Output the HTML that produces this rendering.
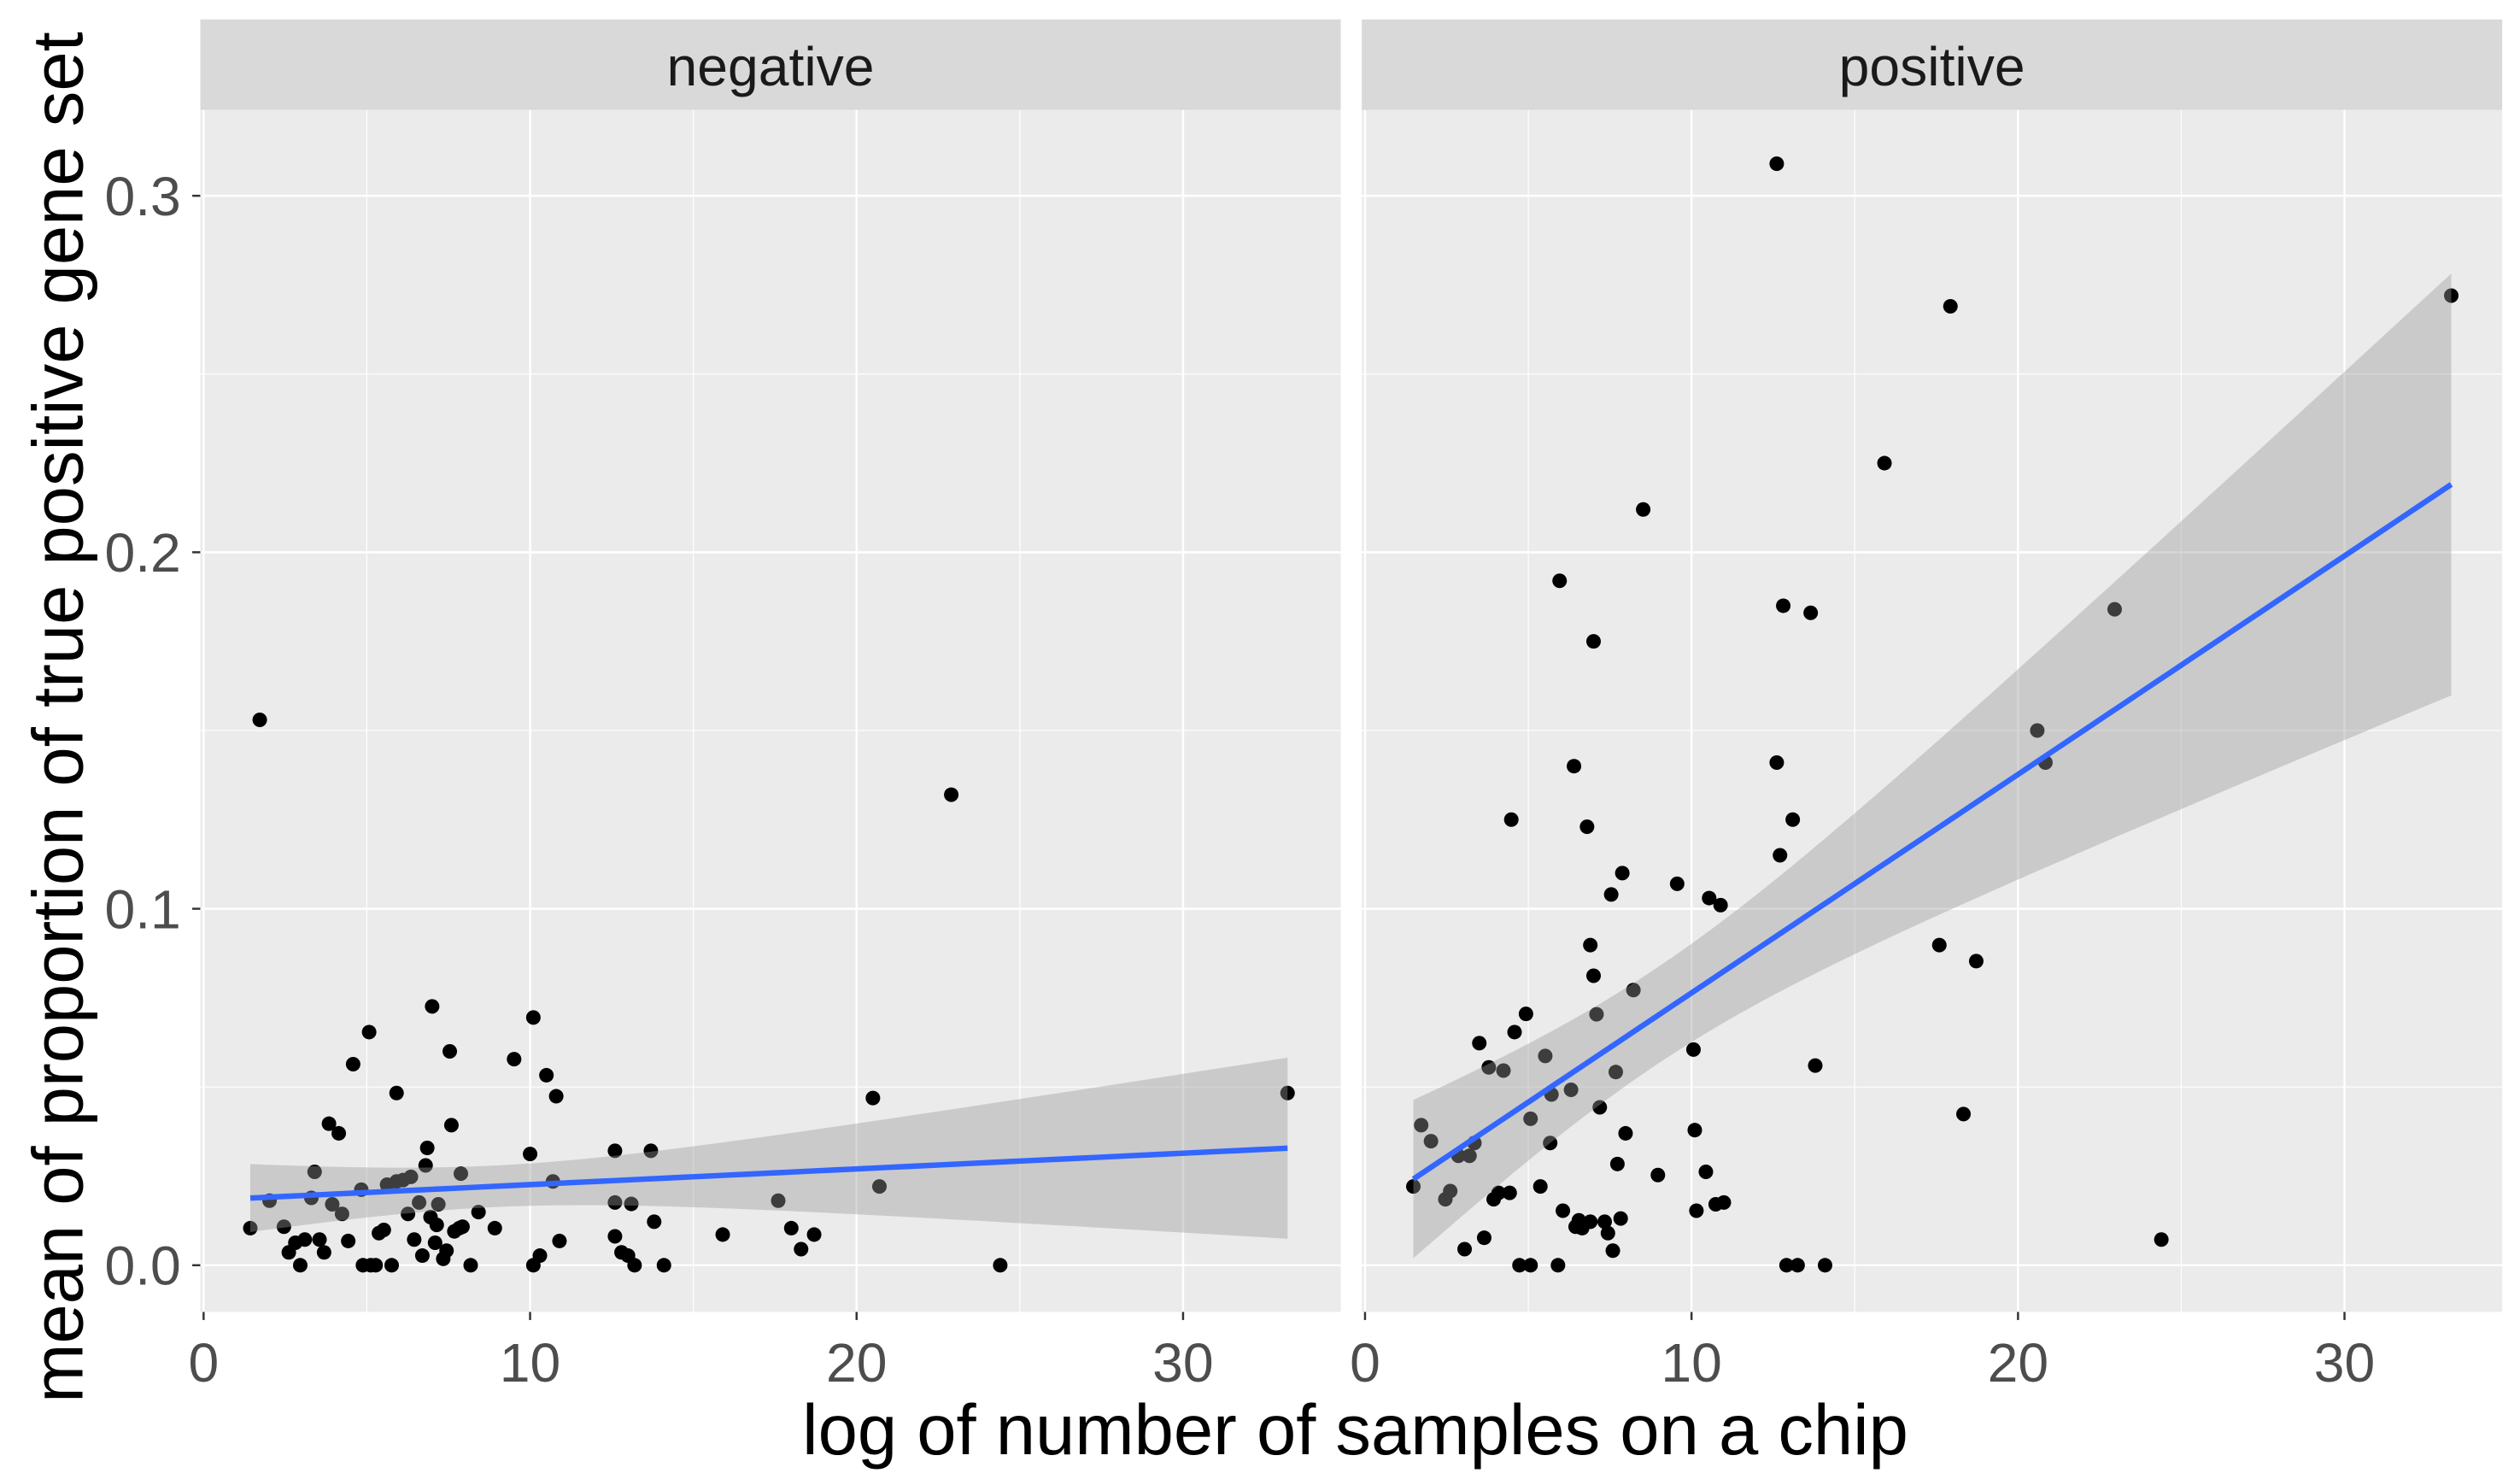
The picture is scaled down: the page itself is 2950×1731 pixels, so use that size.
<!DOCTYPE html>
<html><head><meta charset="utf-8"><style>
html,body{margin:0;padding:0;background:#fff;}
svg{display:block;font-family:"Liberation Sans",sans-serif;}
</style></head><body>
<svg id="chart" width="2950" height="1731" viewBox="0 0 1560 915.4" xmlns="http://www.w3.org/2000/svg"></svg>
<script>
// Data values (x = log of number of samples, y = mean proportion)
const negX = [1.43,1.72,2.02,2.46,2.61,2.81,2.96,3.10,3.30,3.40,3.55,3.69,3.84,3.94,4.14,4.24,4.43,4.58,4.83,4.88,5.07,5.12,5.27,5.37,5.52,5.62,5.76,5.91,5.91,6.11,6.26,6.35,6.45,6.60,6.70,6.80,6.85,6.95,7.00,7.09,7.14,7.19,7.34,7.44,7.54,7.59,7.68,7.83,7.88,7.93,8.18,8.42,8.92,9.51,10.0,10.1,10.1,10.3,10.5,10.7,10.8,10.9,12.6,12.6,12.6,12.8,13.0,13.1,13.2,13.7,13.8,14.1,15.9,17.6,18.0,18.3,18.7,20.5,20.7,22.9,24.4,33.2];
const negY = [0.0104,0.153,0.0181,0.0108,0.0036,0.0063,0.0,0.0072,0.0189,0.0262,0.0072,0.0036,0.0397,0.0171,0.0370,0.0144,0.0068,0.0564,0.0212,0.0,0.0654,0.0,0.0,0.0090,0.0099,0.0226,0.0,0.0483,0.0235,0.0239,0.0144,0.0248,0.0072,0.0176,0.0027,0.0280,0.0329,0.0135,0.0726,0.0063,0.0113,0.0171,0.0018,0.0041,0.0600,0.0393,0.0095,0.0104,0.0257,0.0108,0.0,0.0149,0.0104,0.0578,0.0312,0.0695,0.0,0.0027,0.0533,0.0235,0.0474,0.0068,0.0321,0.0176,0.0081,0.0036,0.0027,0.0172,0.0,0.0321,0.0122,0.0,0.0086,0.0181,0.0104,0.0045,0.0086,0.0469,0.0221,0.132,0.0,0.0483];
const posX = [1.48,1.72,2.02,2.46,2.61,2.86,3.05,3.20,3.35,3.50,3.65,3.79,3.94,4.09,4.24,4.43,4.48,4.58,4.73,4.93,5.07,5.07,5.37,5.52,5.67,5.71,5.96,5.91,6.06,6.31,6.40,6.45,6.55,6.65,6.80,6.90,6.90,7.00,7.00,7.09,7.19,7.34,7.44,7.54,7.68,7.59,7.73,7.83,7.88,7.98,8.22,8.52,8.97,9.56,10.06,10.1,10.15,10.44,10.54,10.74,10.89,10.99,12.61,12.61,12.71,12.81,12.91,13.10,13.25,13.65,13.79,14.09,15.91,17.59,17.93,18.72,18.33,20.59,20.84,22.96,24.39,33.27];
const posY = [0.0221,0.0393,0.0348,0.0185,0.0208,0.0307,0.0045,0.0307,0.0343,0.0623,0.0077,0.0555,0.0185,0.0203,0.0546,0.0203,0.125,0.0654,0.0,0.0705,0.0,0.0411,0.0221,0.0587,0.0343,0.0479,0.192,0.0,0.0153,0.0492,0.140,0.0108,0.0126,0.0104,0.123,0.0898,0.0122,0.175,0.0812,0.0704,0.0443,0.0122,0.0090,0.104,0.0542,0.0041,0.0284,0.0131,0.110,0.0370,0.0772,0.212,0.0253,0.107,0.0605,0.0379,0.0153,0.0262,0.103,0.0171,0.101,0.0176,0.309,0.141,0.115,0.185,0.0,0.125,0.0,0.183,0.0560,0.0,0.225,0.0898,0.269,0.0853,0.0424,0.150,0.141,0.184,0.0072,0.272];
const xTicks = [0,10,20,30];
const yTicks = [0.0,0.1,0.2,0.3];
const yTickLabels = ["0.0","0.1","0.2","0.3"];
const panelNames = ["negative","positive"];

const NS="http://www.w3.org/2000/svg";
const svg=document.getElementById('chart');
function mk(tag,attrs,parent){const e=document.createElementNS(NS,tag);for(const k in attrs)e.setAttribute(k,attrs[k]);(parent||svg).appendChild(e);return e;}

const plotTop=68, plotBot=812, stripTop=12;
const panelLeft=[124,843], panelW=706;
const xMin=-0.1, xMax=34.83, yMin=-0.0131, yMax=0.3241;
function yS(v){return plotBot-(v-yMin)/(yMax-yMin)*(plotBot-plotTop);}
function xS(p,v){return panelLeft[p]+(v-xMin)/(xMax-xMin)*panelW;}

function fit(xs,ys){
  const n=xs.length;let mx=0,my=0;for(let i=0;i<n;i++){mx+=xs[i];my+=ys[i];}mx/=n;my/=n;
  let sxx=0,sxy=0;for(let i=0;i<n;i++){sxx+=(xs[i]-mx)**2;sxy+=(xs[i]-mx)*(ys[i]-my);}
  const b=sxy/sxx,a=my-b*mx;let sse=0;for(let i=0;i<n;i++)sse+=(ys[i]-a-b*xs[i])**2;
  const s=Math.sqrt(sse/(n-2));const t=1.99;
  return {a,b,se:x=>t*s*Math.sqrt(1/n+(x-mx)**2/sxx),min:Math.min(...xs),max:Math.max(...xs)};
}

const datasets=[[negX,negY],[posX,posY]];
for(let p=0;p<2;p++){
  const L=panelLeft[p];
  const g=mk('g',{});
  
  
  const bg=mk('rect',{x:L,y:plotTop,width:panelW,height:plotBot-plotTop,fill:'#ebebeb'},g);
  
  
  [5,15,25].forEach(v=>mk('line',{x1:xS(p,v),x2:xS(p,v),y1:plotTop,y2:plotBot,stroke:'#fff','stroke-width':0.6},g));
  [0.05,0.15,0.25].forEach(v=>mk('line',{x1:L,x2:L+panelW,y1:yS(v),y2:yS(v),stroke:'#fff','stroke-width':0.6},g));
  xTicks.forEach(v=>mk('line',{x1:xS(p,v),x2:xS(p,v),y1:plotTop,y2:plotBot,stroke:'#fff','stroke-width':1.3},g));
  yTicks.forEach(v=>mk('line',{x1:L,x2:L+panelW,y1:yS(v),y2:yS(v),stroke:'#fff','stroke-width':1.3},g));
  const st=mk('rect',{x:L,y:stripTop,width:panelW,height:plotTop-stripTop,fill:'#d9d9d9'},g);
  
  
  const stt=mk('text',{x:L+panelW/2,y:53,'text-anchor':'middle','font-size':34,fill:'#1a1a1a'},g);
  stt.textContent=panelNames[p];
  
  
  const [xs,ys]=datasets[p];
  for(let i=0;i<xs.length;i++){
    const c=mk('circle',{cx:xS(p,xs[i]),cy:yS(ys[i]),r:4.5,fill:'#000'},g);
    
    
  }
  const f=fit(xs,ys);const N=60;let up=[],lo=[],ln=[];
  for(let k=0;k<=N;k++){const x=f.min+(f.max-f.min)*k/N;const yh=f.a+f.b*x;const e=f.se(x);
    up.push(xS(p,x)+','+yS(yh+e));lo.unshift(xS(p,x)+','+yS(yh-e));ln.push(xS(p,x)+','+yS(yh));}
  const band=mk('polygon',{points:up.concat(lo).join(' '),fill:'#999','fill-opacity':0.4},g);
  
  
  const line=mk('polyline',{points:ln.join(' '),fill:'none',stroke:'#3366FF','stroke-width':3.4},g);
  
  
  xTicks.forEach(v=>{
    mk('line',{x1:xS(p,v),x2:xS(p,v),y1:plotBot,y2:plotBot+5,stroke:'#333','stroke-width':1.3},g);
    const t=mk('text',{x:xS(p,v),y:855,'text-anchor':'middle','font-size':34,fill:'#4d4d4d'},g);
    t.textContent=v;
    
    
  });
}
yTicks.forEach((v,i)=>{
  mk('line',{x1:119,x2:124,y1:yS(v),y2:yS(v),stroke:'#333','stroke-width':1.3});
  const t=mk('text',{x:112,y:yS(v)+12,'text-anchor':'end','font-size':34,fill:'#4d4d4d'});
  t.textContent=yTickLabels[i];
  
  
});
const xt=mk('text',{x:839,y:900,'text-anchor':'middle','font-size':44,fill:'#000'});
xt.textContent='log of number of samples on a chip';


const yt=mk('text',{x:0,y:0,'text-anchor':'middle','font-size':44,fill:'#000',transform:'translate(51,444) rotate(-90)'});
yt.textContent='mean of proportion of true positive gene set';


</script>
</body></html>
